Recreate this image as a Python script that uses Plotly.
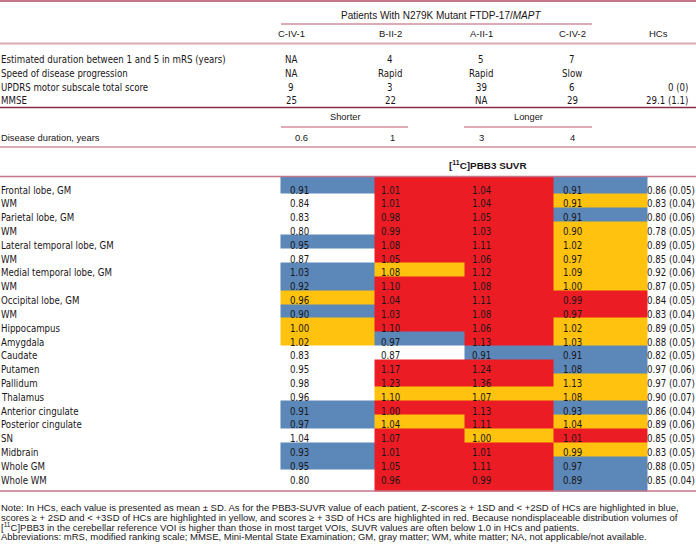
import plotly.graph_objects as go

# ---------------- data ----------------
patients = ["C-IV-1", "B-II-2", "A-II-1", "C-IV-2"]
clin_labels = [
    "Estimated duration between 1 and 5 in mRS (years)",
    "Speed of disease progression",
    "UPDRS motor subscale total score",
    "MMSE",
]
clin_c_iv_1 = ["NA", "NA", "9", "25"]
clin_b_ii_2 = ["4", "Rapid", "3", "22"]
clin_a_ii_1 = ["5", "Rapid", "39", "NA"]
clin_c_iv_2 = ["7", "Slow", "6", "29"]
clin_hcs = ["", "", "0 (0)", "29.1 (1.1)"]
duration_groups = ["Shorter", "Longer"]
disease_duration = ["0.6", "1", "3", "4"]

regions = [
    "Frontal lobe, GM", "WM", "Parietal lobe, GM", "WM", "Lateral temporal lobe, GM", "WM",
    "Medial temporal lobe, GM", "WM", "Occipital lobe, GM", "WM", "Hippocampus", "Amygdala",
    "Caudate", "Putamen", "Pallidum", "Thalamus", "Anterior cingulate", "Posterior cingulate",
    "SN", "Midbrain", "Whole GM", "Whole WM",
]
suvr_c_iv_1 = [0.91, 0.84, 0.83, 0.80, 0.95, 0.87, 1.03, 0.92, 0.96, 0.90, 1.00, 1.02,
               0.83, 0.95, 0.98, 0.96, 0.91, 0.97, 1.04, 0.93, 0.95, 0.80]
suvr_b_ii_2 = [1.01, 1.01, 0.98, 0.99, 1.08, 1.05, 1.08, 1.10, 1.04, 1.03, 1.10, 0.97,
               0.87, 1.17, 1.23, 1.10, 1.00, 1.04, 1.07, 1.01, 1.05, 0.96]
suvr_a_ii_1 = [1.04, 1.04, 1.05, 1.03, 1.11, 1.06, 1.12, 1.08, 1.11, 1.08, 1.06, 1.13,
               0.91, 1.24, 1.36, 1.07, 1.13, 1.11, 1.00, 1.01, 1.11, 0.99]
suvr_c_iv_2 = [0.91, 0.91, 0.91, 0.90, 1.02, 0.97, 1.09, 1.00, 0.99, 0.97, 1.02, 1.03,
               0.91, 1.08, 1.13, 1.08, 0.93, 1.04, 1.01, 0.99, 0.97, 0.89]
hc_mean = [0.86, 0.83, 0.80, 0.78, 0.89, 0.85, 0.92, 0.87, 0.84, 0.83, 0.89, 0.88,
           0.82, 0.97, 0.97, 0.90, 0.86, 0.89, 0.85, 0.83, 0.88, 0.85]
hc_sd = [0.05, 0.04, 0.06, 0.05, 0.05, 0.04, 0.06, 0.05, 0.05, 0.04, 0.05, 0.05,
         0.05, 0.06, 0.07, 0.07, 0.04, 0.06, 0.05, 0.05, 0.05, 0.04]
# highlight level: 0 none, 1 >= +1SD (blue), 2 >= +2SD (yellow), 3 >= +3SD (red)
level_c_iv_1 = [1, 0, 0, 0, 1, 0, 1, 1, 2, 1, 2, 2, 0, 0, 0, 0, 1, 1, 0, 1, 1, 0]
level_b_ii_2 = [3, 3, 3, 3, 3, 3, 2, 3, 3, 3, 3, 1, 0, 3, 3, 2, 3, 2, 3, 3, 3, 3]
level_a_ii_1 = [3, 3, 3, 3, 3, 3, 3, 3, 3, 3, 3, 3, 1, 3, 3, 2, 3, 3, 2, 3, 3, 3]
level_c_iv_2 = [1, 2, 1, 2, 2, 2, 2, 2, 3, 3, 2, 2, 1, 1, 2, 2, 1, 2, 3, 2, 1, 1]

notes = [
    "Note: In HCs, each value is presented as mean ± SD. As for the PBB3-SUVR value of each patient, Z-scores ≥ + 1SD and &lt; +2SD of HCs are highlighted in blue,",
    "scores ≥ + 2SD and &lt; +3SD of HCs are highlighted in yellow, and scores ≥ + 3SD of HCs are highlighted in red. Because nondisplaceable distribution volumes of",
    "[<sup>11</sup>C]PBB3 in the cerebellar reference VOI is higher than those in most target VOIs, SUVR values are often below 1.0 in HCs and patients.",
    "Abbreviations: mRS, modified ranking scale; MMSE, Mini-Mental State Examination; GM, gray matter; WM, white matter; NA, not applicable/not available.",
]

# ---------------- style ----------------
W, H = 696, 545
INK = "#1a1617"
BLUE = "#5b87b9"
YELLOW = "#fec20f"
RED = "#ec1c24"
NARROW = "DejaVu Sans Condensed, sans-serif"
REG = "Liberation Sans, Arial, Helvetica, sans-serif"
LINE_DARK = "#8a2c47"
LINE_MID = "#c4778b"
LINE_LIGHT = "#ddaab6"
NS = 9.6  # narrow text size

fig = go.Figure()

# ---- highlighted cells (heatmap with explicit bin edges) ----
suvr = [suvr_c_iv_1, suvr_b_ii_2, suvr_a_ii_1, suvr_c_iv_2]
levels = [level_c_iv_1, level_b_ii_2, level_a_ii_1, level_c_iv_2]
n = len(regions)
row_h = 13.82
col_edges = [280.5, 374, 464, 553.5, 647]
row_edges = [176.5] + [193.5 + i * row_h for i in range(n - 1)] + [491]
z = [[levels[p][i] for p in range(4)] for i in range(n)]
fig.add_trace(go.Heatmap(
    x=col_edges, y=row_edges, z=z, zmin=-0.5, zmax=3.5, showscale=False, hoverinfo="skip",
    colorscale=[[0, "white"], [0.25, "white"], [0.25, BLUE], [0.5, BLUE],
                [0.5, YELLOW], [0.75, YELLOW], [0.75, RED], [1, RED]],
))


def txt(x, y, s, size, anchor="left", family=NARROW, color=INK):
    fig.add_annotation(x=x, y=y, text=s, showarrow=False, xanchor=anchor, yanchor="middle",
                       xref="x", yref="y", borderpad=0,
                       font=dict(family=family, size=size, color=color))


def hline(y, x0, x1, color, width=1.5):
    fig.add_shape(type="line", x0=x0, x1=x1, y0=y, y1=y, xref="x", yref="y",
                  line=dict(color=color, width=width), layer="above")


# ---- header ----
hline(1, 0, W, LINE_MID, 2)
txt(441, 15, "Patients With N279K Mutant FTDP-17/<i>MAPT</i>", 10, "center", REG)
hline(24, 281, 592, LINE_LIGHT, 2)
top_cols = [291, 390, 481, 572]
for j, p in enumerate(patients):
    txt(top_cols[j], 33.5, p, 9.5, "center", REG)
txt(658, 33.5, "HCs", 9.5, "center", REG)
hline(43.5, 0, W, LINE_LIGHT, 2)

clin = [clin_c_iv_1, clin_b_ii_2, clin_a_ii_1, clin_c_iv_2]
for i, lab in enumerate(clin_labels):
    y = 59.5 + i * 13.8
    txt(0, y, lab, NS)
    for j in range(4):
        txt(top_cols[j], y, clin[j][i], NS, "center")
    if clin_hcs[i]:
        txt(689, y, clin_hcs[i], NS, "right")
hline(107.5, 0, W, LINE_DARK, 1.5)

txt(345, 117, duration_groups[0], 9.3, "center", REG)
txt(528, 117, duration_groups[1], 9.3, "center", REG)
hline(127, 281, 408, LINE_LIGHT, 2)
hline(127, 464, 592, LINE_LIGHT, 2)
txt(0, 137.5, "Disease duration, years", 9.4, "left", REG)
dur_cols = [301, 392, 481, 572]
for j in range(4):
    txt(dur_cols[j], 137.5, disease_duration[j], 9.4, "center", REG)
hline(147, 0, W, LINE_LIGHT, 2)

txt(488, 165, "<b>[<sup>11</sup>C]PBB3 SUVR</b>", 9.9, "center", REG)
hline(176.5, 0, W, LINE_MID, 1.5)

# ---- SUVR table ----
val_x = [289, 380, 471, 562]
for i, reg in enumerate(regions):
    y = 190 + i * row_h
    txt(0, y, reg, NS)
    for j in range(4):
        txt(val_x[j], y, f"{suvr[j][i]:.2f}", NS)
    txt(696, y, f"{hc_mean[i]:.2f} ({hc_sd[i]:.2f})", NS, "right")
hline(491, 0, W, LINE_MID, 1.5)

# ---- notes ----
for k, line in enumerate(notes):
    txt(0, 507.5 + k * 9.6, line, 9.5, "left", REG)

fig.update_xaxes(range=[0, W], visible=False, fixedrange=True)
fig.update_yaxes(range=[H, 0], visible=False, fixedrange=True)
fig.update_layout(width=W, height=H, margin=dict(l=0, r=0, t=0, b=0),
                  paper_bgcolor="white", plot_bgcolor="white", showlegend=False)
fig.write_html("out.html", config={"displayModeBar": False},
               post_script="document.body.style.margin='0px';")
